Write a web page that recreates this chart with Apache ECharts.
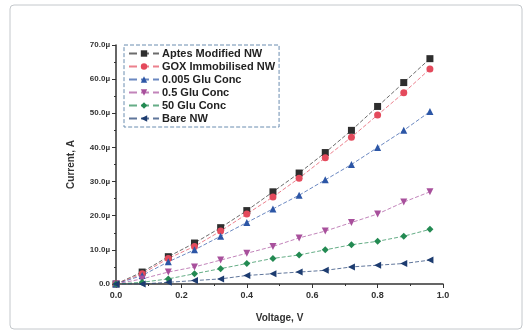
<!DOCTYPE html>
<html><head><meta charset="utf-8">
<script src="https://cdn.jsdelivr.net/npm/echarts@6/dist/echarts.min.js"></script>
<style>html,body{margin:0;padding:0;background:#fff}#c{width:531px;height:334px}</style>
</head><body><div id="c"></div>
<script>
const voltage = [0, 0.08, 0.16, 0.24, 0.32, 0.40, 0.48, 0.56, 0.64, 0.72, 0.80, 0.88, 0.96];
const seriesNames = ['Aptes Modified NW', 'GOX Immobilised NW', '0.005 Glu Conc', '0.5 Glu Conc', '50 Glu Conc', 'Bare NW'];
const aptes = [0, 3.5, 8, 12, 16.5, 21.5, 27, 32.5, 38.5, 45, 52, 59, 66];
const gox = [0, 3, 7.5, 11, 15.5, 20.5, 25.5, 31, 37, 43, 49.5, 56, 63];
const glu0005 = [0, 2.5, 6.5, 10, 14, 18, 22, 26, 30.5, 35, 40, 45, 50.5];
const glu05 = [0, 1.5, 3.5, 5, 7, 9, 11, 13.5, 15.5, 18, 20.5, 24, 27];
const glu50 = [0, 0.5, 1.5, 3, 4.5, 6, 7.5, 8.5, 10, 11.5, 12.5, 14, 16];
const bare = [0, 0, 0.5, 1, 1.5, 2.5, 3, 3.5, 4, 5, 5.5, 6, 7];
const xTicks = ['0.0', '0.2', '0.4', '0.6', '0.8', '1.0'];
const yTicks = ['0.0', '10.0µ', '20.0µ', '30.0µ', '40.0µ', '50.0µ', '60.0µ', '70.0µ'];

const allData = [aptes, gox, glu0005, glu05, glu50, bare];
const colors = ['#2e2e2e', '#e44a5c', '#2c56a6', '#a8509c', '#238a52', '#1d3c70'];
const symbols = ['rect', 'circle', 'triangle', 'path://M0,0 L10,0 L5,9 Z', 'diamond', 'path://M0,5 L9,0 L9,10 Z'];

const chart = echarts.init(document.getElementById('c'), null, {renderer: 'canvas'});
const font = 'Liberation Sans, Arial, sans-serif';
chart.setOption({
  animation: false,
  backgroundColor: '#fff',
  graphic: [{
    type: 'rect', shape: {x: 10, y: 5, width: 512, height: 324, r: 4},
    style: {fill: 'none', stroke: '#c4c8cc', lineWidth: 1}
  }],
  grid: {left: 116, right: 88, top: 45, bottom: 50},
  legend: {
    orient: 'vertical', left: 124, top: 45,
    data: seriesNames,
    itemWidth: 30, itemHeight: 8, itemGap: 2,
    padding: [3, 4, 3, 4],
    borderColor: '#6a8db0', borderWidth: 1, borderType: 'dashed',
    textStyle: {fontFamily: font, fontWeight: 'bold', fontSize: 11, color: '#222', padding: [0, 0, 0, -2]}
  },
  xAxis: {
    type: 'value', min: 0, max: 1, interval: 0.2,
    name: 'Voltage, V', nameLocation: 'middle', nameGap: 29,
    nameTextStyle: {fontFamily: font, fontWeight: 'bold', fontSize: 10, color: '#333'},
    axisLine: {show: true, lineStyle: {color: '#333', width: 1.5}},
    axisTick: {show: true, length: 4, lineStyle: {color: '#333'}},
    minorTick: {show: true, splitNumber: 2, length: 2, lineStyle: {color: '#333'}},
    splitLine: {show: false},
    axisLabel: {fontFamily: font, fontWeight: 'bold', fontSize: 9, color: '#333', margin: 7,
      formatter: (v) => xTicks[Math.round(v / 0.2)]}
  },
  yAxis: {
    type: 'value', min: 0, max: 70, interval: 10,
    name: 'Current, A', nameLocation: 'middle', nameGap: 40,
    nameTextStyle: {fontFamily: font, fontWeight: 'bold', fontSize: 10, color: '#333'},
    axisLine: {show: true, lineStyle: {color: '#333', width: 1.5}},
    axisTick: {show: true, length: 4, lineStyle: {color: '#333'}},
    minorTick: {show: true, splitNumber: 2, length: 2, lineStyle: {color: '#333'}},
    splitLine: {show: false},
    axisLabel: {fontFamily: font, fontWeight: 'bold', fontSize: 8, color: '#333', margin: 6,
      formatter: (v) => yTicks[Math.round(v / 10)]}
  },
  series: seriesNames.map((name, i) => ({
    name, type: 'line',
    data: voltage.map((x, j) => [x, allData[i][j]]),
    symbol: symbols[i], symbolSize: 7,
    itemStyle: {color: colors[i]},
    lineStyle: {color: colors[i], width: 1, type: 'dashed', opacity: 0.7}
  }))
});
</script></body></html>
